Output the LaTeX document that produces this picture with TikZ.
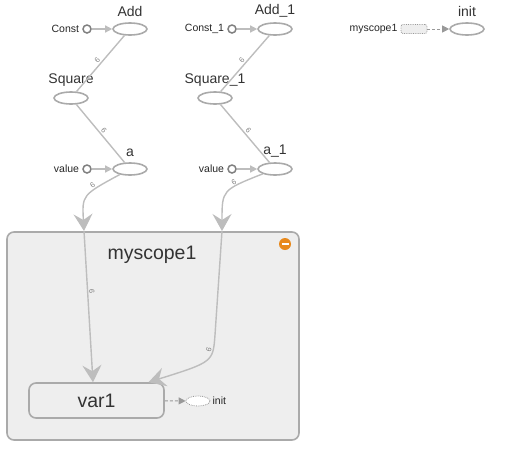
\documentclass[tikz,border=0pt]{standalone}
\usepackage{fontspec}
\setmainfont{Liberation Sans}
\usetikzlibrary{shapes.geometric,arrows.meta}
\definecolor{edgegray}{HTML}{BDBDBD}
\definecolor{opgray}{HTML}{AAAAAA}
\definecolor{txtgray}{HTML}{333333}
\definecolor{scopefill}{HTML}{EEEEEE}
\definecolor{badge}{HTML}{E8891C}
\tikzset{
  op/.style={ellipse, draw=opgray, line width=1.6pt, fill=white, minimum width=34pt, minimum height=12pt, inner sep=0pt},
  lbl/.style={font=\fontsize{14}{14}\selectfont, text=txtgray, inner sep=1pt, label distance=4pt},
  const/.style={circle, draw=gray, line width=1.5pt, fill=white, minimum size=8pt, inner sep=0pt},
  small/.style={font=\fontsize{10.5}{11}\selectfont, text=black!85, inner sep=3pt},
  edge/.style={draw=edgegray, line width=1.4pt},
  tiny/.style={font=\fontsize{7.5}{7.5}\selectfont, text=gray, inner sep=1pt, sloped},
  bigtip/.style={-{Stealth[length=17pt, width=19pt, inset=6pt]}},
  smalltip/.style={-{Triangle[length=7pt, width=7pt]}},
}
\begin{document}
\begin{tikzpicture}[x=1pt, y=-1pt]
    \useasboundingbox (0,0) rectangle (506,448);

    % the scope box
    \node[draw=opgray, line width=1.6pt, fill=scopefill, rounded corners=7pt,
          minimum width=292pt, minimum height=208pt, inner sep=0pt] (myscope) at (153,336) {};
    \node[font=\fontsize{19.5}{19.5}\selectfont, text=txtgray] (scopelbl) at (152,255) {myscope1};
    \node[circle, fill=badge, minimum size=12pt, inner sep=0pt] (badge) at (285,244) {};
    \draw[white, line width=2pt] ([xshift=-3.5pt]badge.center) -- ([xshift=3.5pt]badge.center);

    % first branch
    \node[op, label={[lbl]above:Add}] (add) at (130,29) {};
    \node[const] (const) at (87,29) {};
    \node[small, left] at (const.west) {Const};
    \node[op, label={[lbl]above:Square}] (square) at (71,98) {};
    \node[op, label={[lbl]above:a}] (a) at (130,169) {};
    \node[const] (value) at (87,169) {};
    \node[small, left] at (value.west) {value};

    % second branch
    \node[op, label={[lbl]above:Add\_1}] (add1) at (275,29) {};
    \node[const] (const1) at (232,29) {};
    \node[small, left] at (const1.west) {Const\_1};
    \node[op, label={[lbl]above:Square\_1}] (square1) at (215,98) {};
    \node[op, label={[lbl]above:a\_1}] (a1) at (275,169) {};
    \node[const] (value1) at (232,169) {};
    \node[small, left] at (value1.west) {value};

    % init
    \node[op, label={[lbl]above:init}] (init) at (467,29) {};
    \node[draw=gray!80, line width=0.8pt, densely dotted, fill=scopefill, rounded corners=2pt,
          minimum width=26pt, minimum height=9pt, inner sep=0pt] (scopemini) at (414,29) {};
    \node[small, left] at (scopemini.west) {myscope1};

    % var1 inside the scope
    \node[draw=opgray, line width=1.6pt, fill=scopefill, rounded corners=7pt,
          minimum width=135pt, minimum height=35pt, font=\fontsize{19.5}{19.5}\selectfont, text=txtgray] (var1) at (96.5,400.5) {var1};
    \node[ellipse, draw=gray!80, line width=0.8pt, densely dotted, fill=white, minimum width=24pt, minimum height=10pt, inner sep=0pt] (initref) at (198,401) {};
    \node[small, right, inner sep=2pt] at (initref.east) {init};

    \coordinate (inA) at (84,231);
    \coordinate (inB) at (222,231);

    % connectors
    \draw[edge, smalltip] (const) -- (add);
    \draw[edge, smalltip] (const1) -- (add1);
    \draw[edge, smalltip] (value) -- (a);
    \draw[edge, smalltip] (value1) -- (a1);

    \draw[edge] (add) -- (square) node[midway, tiny, above] {6};
    \draw[edge] (square) -- (a) node[midway, tiny, above] {6};
    \draw[edge] (add1) -- (square1) node[midway, tiny, above] {6};
    \draw[edge] (square1) -- (a1) node[midway, tiny, above] {6};

    \draw[edge, bigtip] (a) .. controls (82,195) .. (inA)
        node[pos=0.3, tiny, above] {6};
    \draw[edge, bigtip] (a1) .. controls (222,190) .. (inB)
        node[pos=0.3, tiny, above] {6};

    \draw[edge, bigtip] (inA) -- ([xshift=-3.5pt]var1.north)
        node[pos=0.4, tiny, above] {6};
    \draw[edge, bigtip] (inB) -- (215,335) .. controls (213,362) .. ([xshift=52pt]var1.north)
        node[pos=0.25, tiny, above] {6};

    \draw[draw=gray!80, line width=1pt, densely dashed, smalltip] (var1) -- (initref);
    \draw[draw=gray!80, line width=1pt, densely dashed, smalltip] (scopemini) -- (init);
\end{tikzpicture}
\end{document}
